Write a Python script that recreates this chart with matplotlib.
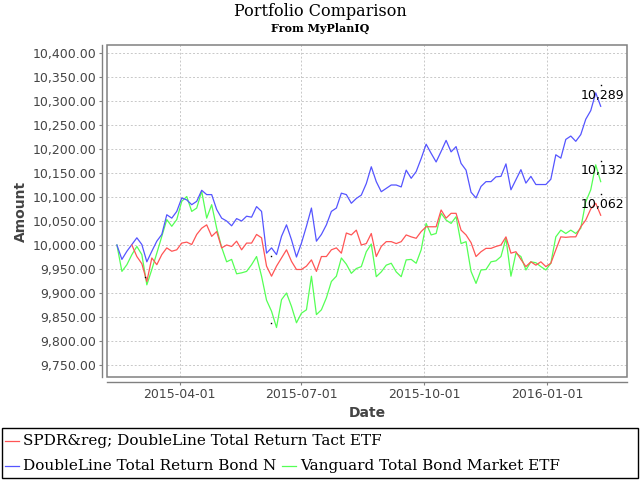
import numpy as np
import pandas as pd
import matplotlib
matplotlib.use("Agg")
import matplotlib.pyplot as plt
import matplotlib.dates as mdates
import matplotlib.ticker as mticker
from matplotlib.lines import Line2D
from matplotlib.patches import Rectangle
from matplotlib.transforms import offset_copy

W, H = 640, 480

SERIES_NAMES = [
    "SPDR&reg; DoubleLine Total Return Tact ETF",
    "DoubleLine Total Return Bond N",
    "Vanguard Total Bond Market ETF",
]
SERIES_COLORS = ["#ff5555", "#5555ff", "#55ff55"]

# readings every ~3.7 days from the picture
dates = pd.date_range("2015-02-13", "2016-02-10", periods=98)

spdr_tact = [
    np.nan, np.nan, np.nan, 10000, 9976, 9961, 9924, 9973, 9959, 9980,
    9994, 9987, 9990, 10004, 10006, 10001, 10022, 10035, 10042, 10018,
    10028, 9994, 10000, 9997, 10008, 9990, 10004, 10004, 10022, 10015,
    9956, 9935, 9956, 9973, 9990, 9966, 9949, 9949, 9956, 9969,
    9945, 9976, 9976, 9990, 9994, 9983, 10025, 10021, 10031, 10000,
    10003, 10024, 9976, 9997, 10007, 10007, 10003, 10007, 10021, 10017,
    10014, 10028, 10038, 10038, 10038, 10073, 10056, 10066, 10066, 10031,
    10021, 10005, 9976, 9986, 9993, 9993, 9997, 10000, 10017, 9983,
    9986, 9970, 9955, 9965, 9958, 9965, 9955, 9962, 9990, 10017,
    10016, 10017, 10017, 10038, 10052, 10075, 10087, 10062,
]
doubleline_n = [
    10000, 9970, 9987, 10001, 10015, 10001, 9965, 9987, 10008, 10022,
    10063, 10056, 10070, 10098, 10094, 10084, 10091, 10114, 10105, 10105,
    10074, 10056, 10050, 10040, 10055, 10050, 10060, 10058, 10080, 10070,
    9983, 9994, 9980, 10018, 10042, 10011, 9975, 10004, 10039, 10077,
    10008, 10022, 10042, 10070, 10077, 10108, 10105, 10087, 10097, 10104,
    10128, 10163, 10132, 10111, 10118, 10125, 10125, 10121, 10156, 10139,
    10153, 10180, 10210, 10191, 10173, 10195, 10218, 10194, 10205, 10170,
    10156, 10110, 10098, 10122, 10132, 10132, 10142, 10143, 10169, 10115,
    10136, 10157, 10129, 10143, 10126, 10126, 10126, 10137, 10188, 10181,
    10220, 10227, 10216, 10230, 10262, 10280, 10317, 10289,
]
vanguard_bond = [
    10000, 9945, 9959, 9980, 9997, 9980, 9917, 9949, 9983, 10018,
    10053, 10039, 10053, 10091, 10101, 10070, 10077, 10112, 10056, 10084,
    10035, 9995, 9965, 9970, 9940, 9942, 9945, 9959, 9976, 9935,
    9885, 9862, 9828, 9886, 9900, 9872, 9838, 9858, 9865, 9935,
    9855, 9865, 9890, 9924, 9935, 9973, 9960, 9941, 9951, 9955,
    9986, 10002, 9934, 9944, 9958, 9962, 9944, 9934, 9969, 9970,
    9962, 9990, 10045, 10021, 10024, 10066, 10052, 10045, 10059, 10003,
    10007, 9945, 9920, 9948, 9949, 9965, 9967, 9976, 10014, 9935,
    9983, 9976, 9948, 9965, 9963, 9955, 9948, 9962, 10017, 10031,
    10024, 10031, 10024, 10035, 10090, 10115, 10167, 10132,
]

# small black marks seen inside the plot
marker_dates = pd.to_datetime(["2015-03-06", "2015-06-08", "2015-06-08"])
marker_values = [9933, 9977, 9837]

x_ticks = pd.to_datetime(["2015-04-01", "2015-07-01", "2015-10-01", "2016-01-01"])
y_ticks = np.arange(9750, 10401, 50)


def px(x, y):
    # pixel position -> figure fraction
    return x / W, 1 - y / H


def draw_legend(fig):
    x0, y0 = px(2, 478)
    fig.add_artist(Rectangle((x0, y0), 636 / W, 50 / H, transform=fig.transFigure,
                             fill=False, ec="black", lw=1))
    renderer = fig.canvas.get_renderer()
    rows = [(441, [0]), (466, [1, 2])]
    for y, items in rows:
        x = 5
        for i in items:
            fig.add_artist(Line2D([x / W, (x + 14) / W], [1 - y / H] * 2,
                                  transform=fig.transFigure,
                                  color=SERIES_COLORS[i], lw=0.9))
            t = fig.text((x + 18) / W, 1 - y / H, SERIES_NAMES[i], ha="left",
                         va="center", family="DejaVu Serif", fontsize=11)
            bb = t.get_window_extent(renderer)
            x = bb.x1 + 6


fig = plt.figure(figsize=(W / 100, H / 100), dpi=100)
ax = fig.add_axes([107 / W, 1 - 377 / H, 520 / W, 332 / H])

series = [spdr_tact, doubleline_n, vanguard_bond]
for i in [2, 1, 0]:
    ax.plot(dates, series[i], color=SERIES_COLORS[i], lw=0.9, zorder=2 + (2 - i))

ax.plot(marker_dates, marker_values, ls="none", marker="s", ms=1.0, mew=0,
        color="black", zorder=6)

# end labels
dot_tr = offset_copy(ax.transData, fig=fig, y=15, units="points")
for vals in series:
    v = vals[-1]
    ax.annotate(f"{v:,.0f}", xy=(dates[-1], v), xytext=(1, 3),
                textcoords="offset points", ha="center", va="bottom",
                fontsize=9, color="black", zorder=7)
    ax.plot([dates[-1]], [v], ls="none", marker="s", ms=1.0, mew=0,
            color="black", transform=dot_tr, zorder=7)

ax.set_xlim(pd.Timestamp("2015-02-05 14:00"), pd.Timestamp("2016-02-29 16:00"))
ax.set_ylim(9725, 10416.7)
ax.set_xticks(x_ticks)
ax.xaxis.set_major_formatter(mdates.DateFormatter("%Y-%m-%d"))
ax.set_yticks(y_ticks)
ax.yaxis.set_major_formatter(mticker.StrMethodFormatter("{x:,.2f}"))

ax.grid(True, color="#c8c8c8", linestyle=(0, (2, 2)), linewidth=0.7)
ax.set_axisbelow(True)

for side in ["top", "right"]:
    ax.spines[side].set_visible(False)
for side in ["left", "bottom"]:
    ax.spines[side].set_position(("outward", 3.6))
    ax.spines[side].set_color("#808080")
    ax.spines[side].set_linewidth(1)
ax.add_patch(Rectangle((0, 0), 1, 1, transform=ax.transAxes, fill=False,
                       ec="#808080", lw=1.1, clip_on=False, zorder=8))

ax.tick_params(axis="both", colors="#808080", labelcolor="#444444",
               labelsize=9, length=2.5, width=0.8, pad=1.5)

ax.set_xlabel("Date", fontsize=10, weight="bold", color="#444444", labelpad=4)
ax.set_ylabel("Amount", fontsize=10, weight="bold", color="#444444", labelpad=3)

fig.text(0.5, 1 - 11 / H, "Portfolio Comparison", ha="center", va="center",
         family="DejaVu Serif", fontsize=11.5)
fig.text(0.5, 1 - 28 / H, "From MyPlanIQ", ha="center", va="center",
         family="DejaVu Serif", weight="bold", fontsize=8)

draw_legend(fig)

fig.savefig("out.png", dpi=100)
